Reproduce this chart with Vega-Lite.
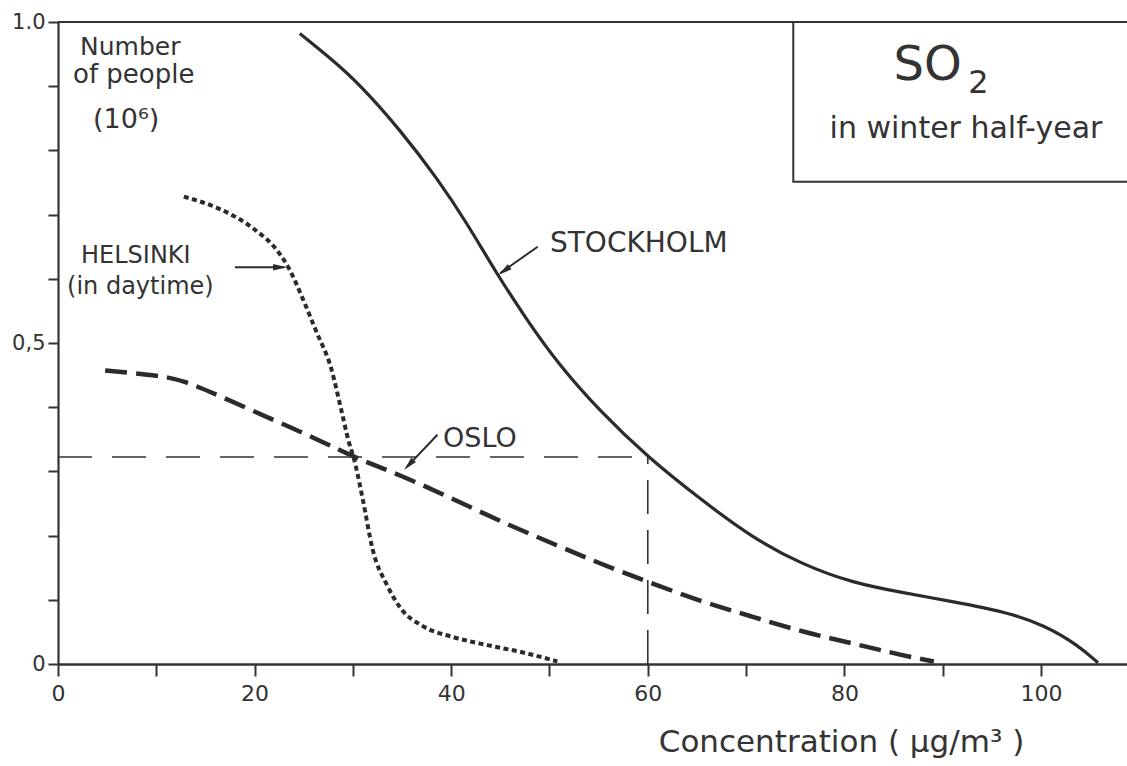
{
  "$schema": "https://vega.github.io/schema/vega-lite/v6.json",
  "width": 1069,
  "height": 642,
  "autosize": {"type": "none"},
  "padding": {"left": 58, "top": 22, "right": 0, "bottom": 102},
  "background": "white",
  "config": {
    "view": {"stroke": null},
    "font": "DejaVu Sans",
    "axis": {"grid": false, "domainColor": "#333333", "tickColor": "#333333", "labelColor": "#333333", "titleColor": "#333333", "labelFont": "DejaVu Sans", "titleFont": "DejaVu Sans"},
    "axisX": {"labelFontSize": 22},
    "axisY": {"labelFontSize": 21}
  },
  "datasets": {
    "curves": [
      {"city": "Stockholm", "concentration": 24.6, "people": 0.982},
      {"city": "Stockholm", "concentration": 27.6, "people": 0.945},
      {"city": "Stockholm", "concentration": 30.7, "people": 0.903},
      {"city": "Stockholm", "concentration": 34.8, "people": 0.832},
      {"city": "Stockholm", "concentration": 38.6, "people": 0.756},
      {"city": "Stockholm", "concentration": 41.6, "people": 0.687},
      {"city": "Stockholm", "concentration": 44.7, "people": 0.606},
      {"city": "Stockholm", "concentration": 47.7, "people": 0.536},
      {"city": "Stockholm", "concentration": 50.8, "people": 0.469},
      {"city": "Stockholm", "concentration": 55.1, "people": 0.394},
      {"city": "Stockholm", "concentration": 60.0, "people": 0.322},
      {"city": "Stockholm", "concentration": 65.5, "people": 0.255},
      {"city": "Stockholm", "concentration": 70.6, "people": 0.197},
      {"city": "Stockholm", "concentration": 75.7, "people": 0.155},
      {"city": "Stockholm", "concentration": 80.9, "people": 0.126},
      {"city": "Stockholm", "concentration": 86.0, "people": 0.111},
      {"city": "Stockholm", "concentration": 91.1, "people": 0.097},
      {"city": "Stockholm", "concentration": 96.2, "people": 0.082},
      {"city": "Stockholm", "concentration": 100.3, "people": 0.061},
      {"city": "Stockholm", "concentration": 103.8, "people": 0.029},
      {"city": "Stockholm", "concentration": 105.8, "people": 0.002},
      {"city": "Helsinki", "concentration": 12.8, "people": 0.728},
      {"city": "Helsinki", "concentration": 16.4, "people": 0.709},
      {"city": "Helsinki", "concentration": 19.9, "people": 0.678},
      {"city": "Helsinki", "concentration": 22.4, "people": 0.642},
      {"city": "Helsinki", "concentration": 23.5, "people": 0.616},
      {"city": "Helsinki", "concentration": 24.9, "people": 0.569},
      {"city": "Helsinki", "concentration": 26.3, "people": 0.517},
      {"city": "Helsinki", "concentration": 27.8, "people": 0.46},
      {"city": "Helsinki", "concentration": 28.8, "people": 0.397},
      {"city": "Helsinki", "concentration": 29.6, "people": 0.345},
      {"city": "Helsinki", "concentration": 30.1, "people": 0.32},
      {"city": "Helsinki", "concentration": 31.0, "people": 0.257},
      {"city": "Helsinki", "concentration": 32.0, "people": 0.179},
      {"city": "Helsinki", "concentration": 33.5, "people": 0.122},
      {"city": "Helsinki", "concentration": 34.9, "people": 0.086},
      {"city": "Helsinki", "concentration": 37.0, "people": 0.06},
      {"city": "Helsinki", "concentration": 40.2, "people": 0.042},
      {"city": "Helsinki", "concentration": 43.8, "people": 0.029},
      {"city": "Helsinki", "concentration": 47.3, "people": 0.018},
      {"city": "Helsinki", "concentration": 50.8, "people": 0.004},
      {"city": "Oslo", "concentration": 4.8, "people": 0.457},
      {"city": "Oslo", "concentration": 10.0, "people": 0.45},
      {"city": "Oslo", "concentration": 12.8, "people": 0.442},
      {"city": "Oslo", "concentration": 17.1, "people": 0.413},
      {"city": "Oslo", "concentration": 22.4, "people": 0.377},
      {"city": "Oslo", "concentration": 27.8, "people": 0.34},
      {"city": "Oslo", "concentration": 30.1, "people": 0.322},
      {"city": "Oslo", "concentration": 34.9, "people": 0.294},
      {"city": "Oslo", "concentration": 40.2, "people": 0.257},
      {"city": "Oslo", "concentration": 45.6, "people": 0.218},
      {"city": "Oslo", "concentration": 50.9, "people": 0.184},
      {"city": "Oslo", "concentration": 55.2, "people": 0.156},
      {"city": "Oslo", "concentration": 59.8, "people": 0.129},
      {"city": "Oslo", "concentration": 65.5, "people": 0.097},
      {"city": "Oslo", "concentration": 70.6, "people": 0.074},
      {"city": "Oslo", "concentration": 75.7, "people": 0.05},
      {"city": "Oslo", "concentration": 80.9, "people": 0.032},
      {"city": "Oslo", "concentration": 86.0, "people": 0.013},
      {"city": "Oslo", "concentration": 89.1, "people": 0.004}
    ]
  },
  "layer": [
    {
      "data": {"name": "curves"},
      "transform": [{"filter": "datum.city === 'Stockholm'"}],
      "mark": {"type": "line", "color": "#2b2b2b", "strokeWidth": 3.2, "interpolate": "basis"},
      "encoding": {
        "x": {
          "field": "concentration", "type": "quantitative",
          "scale": {"domain": [0, 108.75], "nice": false, "zero": false},
          "axis": {
            "values": [0, 10, 20, 30, 40, 50, 60, 70, 80, 90, 100],
            "labelExpr": "datum.value % 20 === 0 ? datum.label : ''",
            "domainWidth": 2.6, "tickWidth": 2, "tickSize": 12,
            "labelFontSize": 22, "labelPadding": 7, "labelFlush": false,
            "title": "Concentration ( µg/m³ )",
            "titleFontSize": 31, "titleFontWeight": "normal",
            "titleX": 783, "titleY": 87, "titleAlign": "center", "titleBaseline": "alphabetic"
          }
        },
        "y": {
          "field": "people", "type": "quantitative",
          "scale": {"domain": [0, 1], "nice": false},
          "axis": {
            "values": [0, 0.1, 0.2, 0.3, 0.4, 0.5, 0.6, 0.7, 0.8, 0.9, 1],
            "labelExpr": "datum.value === 0 ? '0' : (datum.value > 0.45 && datum.value < 0.55 ? '0,5' : (datum.value === 1 ? '1.0' : ''))",
            "domainWidth": 2.2, "tickWidth": 2, "tickSize": 10,
            "labelFontSize": 21, "labelPadding": 3, "labelFlush": false,
            "title": null
          }
        }
      }
    },
    {
      "data": {"name": "curves"},
      "transform": [{"filter": "datum.city === 'Helsinki'"}],
      "mark": {"type": "line", "color": "#2b2b2b", "strokeWidth": 4, "strokeDash": [5, 3.5], "interpolate": "monotone"},
      "encoding": {
        "x": {"field": "concentration", "type": "quantitative"},
        "y": {"field": "people", "type": "quantitative"}
      }
    },
    {
      "data": {"name": "curves"},
      "transform": [{"filter": "datum.city === 'Oslo'"}],
      "mark": {"type": "line", "color": "#2b2b2b", "strokeWidth": 4.5, "strokeDash": [22, 9], "interpolate": "basis"},
      "encoding": {
        "x": {"field": "concentration", "type": "quantitative"},
        "y": {"field": "people", "type": "quantitative"}
      }
    },
    {
      "data": {"values": [{}]},
      "mark": {"type": "rule", "color": "#333333", "strokeWidth": 1.6, "strokeDash": [34, 20]},
      "encoding": {
        "x": {"datum": 0, "type": "quantitative"},
        "x2": {"datum": 60},
        "y": {"datum": 0.3224, "type": "quantitative"}
      }
    },
    {
      "data": {"values": [{}]},
      "mark": {"type": "rule", "color": "#333333", "strokeWidth": 1.6, "strokeDash": [34, 16]},
      "encoding": {
        "x": {"datum": 60, "type": "quantitative"},
        "y": {"datum": 0, "type": "quantitative"},
        "y2": {"datum": 0.3224}
      }
    },
    {
      "data": {"values": [{}]},
      "mark": {"type": "rule", "color": "#333333", "strokeWidth": 2.2},
      "encoding": {
        "x": {"datum": 0, "type": "quantitative"},
        "x2": {"datum": 110},
        "y": {"datum": 1, "type": "quantitative"}
      }
    },
    {
      "data": {"values": [{}]},
      "mark": {"type": "rect", "fill": "white", "fillOpacity": 0, "stroke": "#333333", "strokeWidth": 2},
      "encoding": {
        "x": {"datum": 74.8, "type": "quantitative"},
        "x2": {"datum": 112},
        "y": {"datum": 0.751, "type": "quantitative"},
        "y2": {"datum": 1}
      }
    },
    {
      "data": {"values": [{}]},
      "mark": {"type": "text", "text": "SO", "fontSize": 48, "align": "left", "baseline": "alphabetic", "font": "DejaVu Sans", "color": "#333333"},
      "encoding": {"x": {"datum": 85.0, "type": "quantitative"}, "y": {"datum": 0.91, "type": "quantitative"}}
    },
    {
      "data": {"values": [{}]},
      "mark": {"type": "text", "text": "2", "fontSize": 32, "align": "left", "baseline": "alphabetic", "font": "DejaVu Sans", "color": "#333333"},
      "encoding": {"x": {"datum": 92.6, "type": "quantitative"}, "y": {"datum": 0.8894, "type": "quantitative"}}
    },
    {
      "data": {"values": [{}]},
      "mark": {"type": "text", "text": "in winter half-year", "fontSize": 30, "align": "center", "baseline": "alphabetic", "font": "DejaVu Sans", "color": "#333333"},
      "encoding": {"x": {"datum": 92.37, "type": "quantitative"}, "y": {"datum": 0.8193, "type": "quantitative"}}
    },
    {
      "data": {"values": [{}]},
      "mark": {"type": "text", "text": "Number", "fontSize": 25, "align": "left", "baseline": "alphabetic", "font": "DejaVu Sans", "color": "#333333"},
      "encoding": {"x": {"datum": 2.24, "type": "quantitative"}, "y": {"datum": 0.9486, "type": "quantitative"}}
    },
    {
      "data": {"values": [{}]},
      "mark": {"type": "text", "text": "of people", "fontSize": 26, "align": "left", "baseline": "alphabetic", "font": "DejaVu Sans", "color": "#333333"},
      "encoding": {"x": {"datum": 1.53, "type": "quantitative"}, "y": {"datum": 0.905, "type": "quantitative"}}
    },
    {
      "data": {"values": [{}]},
      "mark": {"type": "text", "text": "(10⁶)", "fontSize": 27, "align": "left", "baseline": "alphabetic", "font": "DejaVu Sans", "color": "#333333"},
      "encoding": {"x": {"datum": 3.56, "type": "quantitative"}, "y": {"datum": 0.835, "type": "quantitative"}}
    },
    {
      "data": {"values": [{}]},
      "mark": {"type": "text", "text": "STOCKHOLM", "fontSize": 28, "align": "left", "baseline": "alphabetic", "font": "DejaVu Sans", "color": "#333333"},
      "encoding": {"x": {"datum": 50.05, "type": "quantitative"}, "y": {"datum": 0.6417, "type": "quantitative"}}
    },
    {
      "data": {"values": [{}]},
      "mark": {"type": "text", "text": "HELSINKI", "fontSize": 24, "align": "left", "baseline": "alphabetic", "font": "DejaVu Sans", "color": "#333333"},
      "encoding": {"x": {"datum": 2.34, "type": "quantitative"}, "y": {"datum": 0.625, "type": "quantitative"}}
    },
    {
      "data": {"values": [{}]},
      "mark": {"type": "text", "text": "(in daytime)", "fontSize": 24, "align": "left", "baseline": "alphabetic", "font": "DejaVu Sans", "color": "#333333"},
      "encoding": {"x": {"datum": 0.92, "type": "quantitative"}, "y": {"datum": 0.576, "type": "quantitative"}}
    },
    {
      "data": {"values": [{}]},
      "mark": {"type": "text", "text": "OSLO", "fontSize": 27, "align": "left", "baseline": "alphabetic", "font": "DejaVu Sans", "color": "#333333"},
      "encoding": {"x": {"datum": 39.17, "type": "quantitative"}, "y": {"datum": 0.338, "type": "quantitative"}}
    },
    {
      "data": {"values": [{}]},
      "mark": {"type": "rule", "color": "#2b2b2b", "strokeWidth": 2},
      "encoding": {"x": {"datum": 48.8, "type": "quantitative"}, "x2": {"datum": 45.0}, "y": {"datum": 0.65, "type": "quantitative"}, "y2": {"datum": 0.609}}
    },
    {
      "data": {"values": [{}]},
      "mark": {"type": "point", "shape": "M0,0L0.45,2L-0.45,2Z", "filled": true, "opacity": 1, "color": "#2b2b2b", "size": 196, "angle": 233.8},
      "encoding": {"x": {"datum": 44.8, "type": "quantitative"}, "y": {"datum": 0.606, "type": "quantitative"}}
    },
    {
      "data": {"values": [{}]},
      "mark": {"type": "rule", "color": "#2b2b2b", "strokeWidth": 2},
      "encoding": {"x": {"datum": 18.0, "type": "quantitative"}, "x2": {"datum": 23.0}, "y": {"datum": 0.618, "type": "quantitative"}}
    },
    {
      "data": {"values": [{}]},
      "mark": {"type": "point", "shape": "M0,0L0.45,2L-0.45,2Z", "filled": true, "opacity": 1, "color": "#2b2b2b", "size": 196, "angle": 90},
      "encoding": {"x": {"datum": 23.3, "type": "quantitative"}, "y": {"datum": 0.618, "type": "quantitative"}}
    },
    {
      "data": {"values": [{}]},
      "mark": {"type": "rule", "color": "#2b2b2b", "strokeWidth": 2},
      "encoding": {"x": {"datum": 38.6, "type": "quantitative"}, "x2": {"datum": 35.5}, "y": {"datum": 0.357, "type": "quantitative"}, "y2": {"datum": 0.307}}
    },
    {
      "data": {"values": [{}]},
      "mark": {"type": "point", "shape": "M0,0L0.45,2L-0.45,2Z", "filled": true, "opacity": 1, "color": "#2b2b2b", "size": 196, "angle": 223.4},
      "encoding": {"x": {"datum": 35.2, "type": "quantitative"}, "y": {"datum": 0.302, "type": "quantitative"}}
    }
  ]
}
